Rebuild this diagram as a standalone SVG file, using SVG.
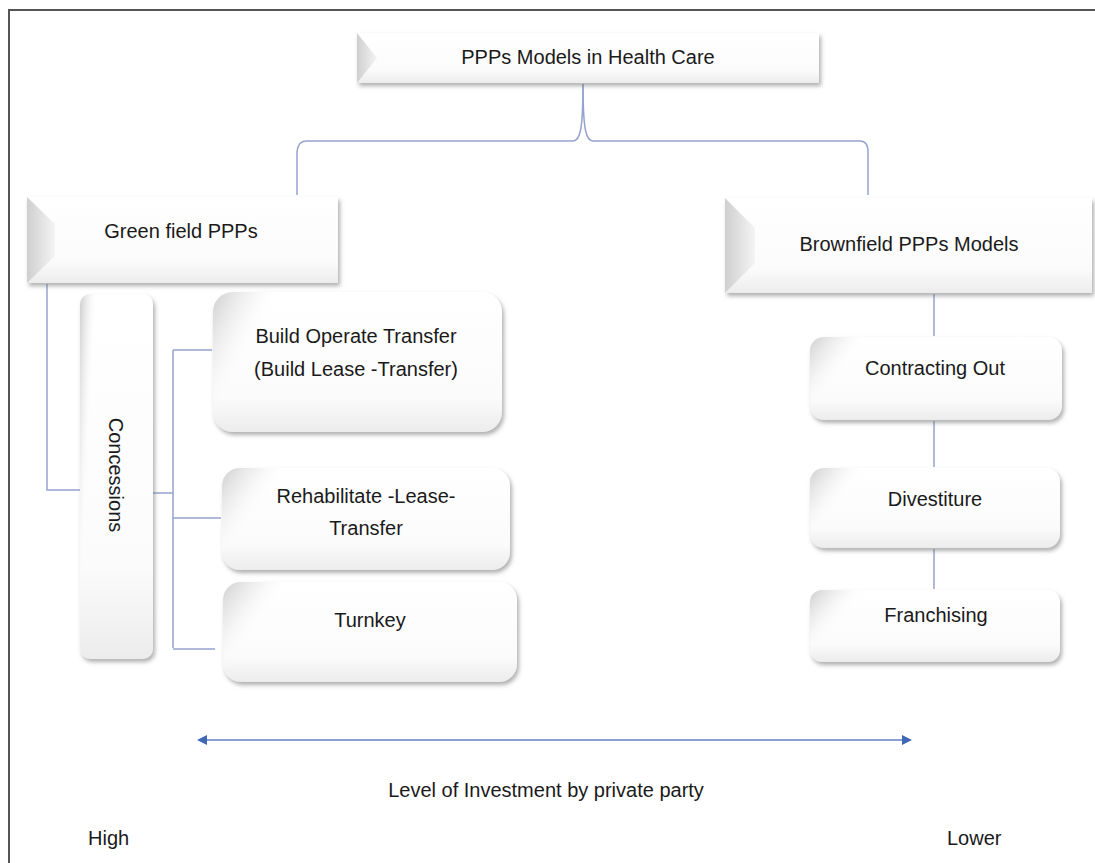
<svg xmlns="http://www.w3.org/2000/svg" width="1095" height="863" viewBox="0 0 1095 863">
<style>
.t{font-family:"Liberation Sans",Arial,sans-serif;font-size:20px;fill:#1a1a1a;text-anchor:middle}
.c{fill:none;stroke:#95a3cf;stroke-width:1.5}
.box{fill:url(#face);filter:url(#sh)}
.bev{fill:url(#bevL)}
.ov{fill:url(#leftShade)}
</style>
<defs>
<filter id="sh" x="-10%" y="-10%" width="130%" height="140%">
<feDropShadow dx="2" dy="3" stdDeviation="2" flood-color="#6e6e6e" flood-opacity="0.55"/>
</filter>
<linearGradient id="face" x1="0" y1="0" x2="0" y2="1">
<stop offset="0" stop-color="#ffffff"/>
<stop offset="0.75" stop-color="#fbfbfb"/>
<stop offset="1" stop-color="#ececec"/>
</linearGradient>
<linearGradient id="bevL" x1="0" y1="0" x2="1" y2="0">
<stop offset="0" stop-color="#cfcfcf"/>
<stop offset="1" stop-color="#f4f4f4"/>
</linearGradient>
<linearGradient id="leftShade" x1="0" y1="0" x2="1" y2="0.25">
<stop offset="0" stop-color="#c8c8c8" stop-opacity="0.9"/>
<stop offset="0.12" stop-color="#e6e6e6" stop-opacity="0.5"/>
<stop offset="0.22" stop-color="#ffffff" stop-opacity="0"/>
</linearGradient>
<marker id="ah" viewBox="0 0 10 10" refX="8" refY="5" markerWidth="10" markerHeight="10" markerUnits="userSpaceOnUse" orient="auto-start-reverse">
<path d="M0,0 L10,5 L0,10 z" fill="#3f68b5"/>
</marker>
</defs>
<rect x="0" y="0" width="1095" height="863" fill="#ffffff"/>
<path d="M9,863 V10 H1095" fill="none" stroke="#555" stroke-width="2"/>

<g id="connectors">
<path class="c" d="M583,84 C583,130 580,141 573,141 H306 Q298,141 297,152 V195"/>
<path class="c" d="M583,84 C583,130 586,141 593,141 H860 Q868,141 868,152 V195"/>
<path class="c" d="M47,284 V490 H80"/>
<path class="c" d="M153,493 H173"/>
<path class="c" d="M173,350 V648"/>
<path class="c" d="M173,350 H212"/>
<path class="c" d="M173,518 H221"/>
<path class="c" d="M173,649 H215"/>
<path class="c" d="M934,294 V336"/>
<path class="c" d="M934,421 V467"/>
<path class="c" d="M934,549 V589"/>
<line x1="199" y1="740" x2="910" y2="740" stroke="#8a9fd2" stroke-width="2" marker-start="url(#ah)" marker-end="url(#ah)"/>
</g>

<g id="n-top">
<rect class="box" x="357" y="33" width="462" height="50"/>
<polygon class="bev" points="357,33 377,58 357,83"/>
<text class="t" x="588" y="64">PPPs Models in Health Care</text>
</g>

<g id="n-green">
<rect class="box" x="27" y="197" width="311" height="86"/>
<polygon class="bev" points="27,197 55,224 55,256 27,283"/>
<text class="t" x="181" y="238">Green field PPPs</text>
</g>

<g id="n-brown">
<rect class="box" x="725" y="198" width="367" height="95"/>
<polygon class="bev" points="725,198 755,228 755,263 725,293"/>
<text class="t" x="909" y="251">Brownfield PPPs Models</text>
</g>

<g id="n-concessions">
<rect class="box" x="80" y="294" width="73" height="365" rx="10"/>
<rect class="ov" x="80" y="294" width="73" height="365" rx="10"/>
<text class="t" transform="translate(116,475) rotate(90)" x="0" y="7">Concessions</text>
</g>

<g id="n-bot">
<rect class="box" x="213" y="292" width="289" height="140" rx="20"/>
<rect class="ov" x="213" y="292" width="289" height="140" rx="20"/>
<text class="t" x="356" y="343">Build Operate Transfer</text>
<text class="t" x="356" y="376">(Build Lease -Transfer)</text>
</g>

<g id="n-rlt">
<rect class="box" x="222" y="468" width="288" height="102" rx="18"/>
<rect class="ov" x="222" y="468" width="288" height="102" rx="18"/>
<text class="t" x="366" y="503">Rehabilitate -Lease-</text>
<text class="t" x="366" y="535">Transfer</text>
</g>

<g id="n-turnkey">
<rect class="box" x="223" y="582" width="294" height="100" rx="18"/>
<rect class="ov" x="223" y="582" width="294" height="100" rx="18"/>
<text class="t" x="370" y="627">Turnkey</text>
</g>

<g id="n-contracting">
<rect class="box" x="810" y="337" width="252" height="83" rx="14"/>
<rect class="ov" x="810" y="337" width="252" height="83" rx="14"/>
<text class="t" x="935" y="375">Contracting Out</text>
</g>

<g id="n-divestiture">
<rect class="box" x="810" y="468" width="250" height="80" rx="14"/>
<rect class="ov" x="810" y="468" width="250" height="80" rx="14"/>
<text class="t" x="935" y="506">Divestiture</text>
</g>

<g id="n-franchising">
<rect class="box" x="810" y="590" width="250" height="72" rx="12"/>
<rect class="ov" x="810" y="590" width="250" height="72" rx="12"/>
<text class="t" x="936" y="622">Franchising</text>
</g>

<g id="labels">
<text class="t" x="546" y="797">Level of Investment by private party</text>
<text class="t" x="88" y="845" style="text-anchor:start">High</text>
<text class="t" x="947" y="845" style="text-anchor:start">Lower</text>
</g>
</svg>
